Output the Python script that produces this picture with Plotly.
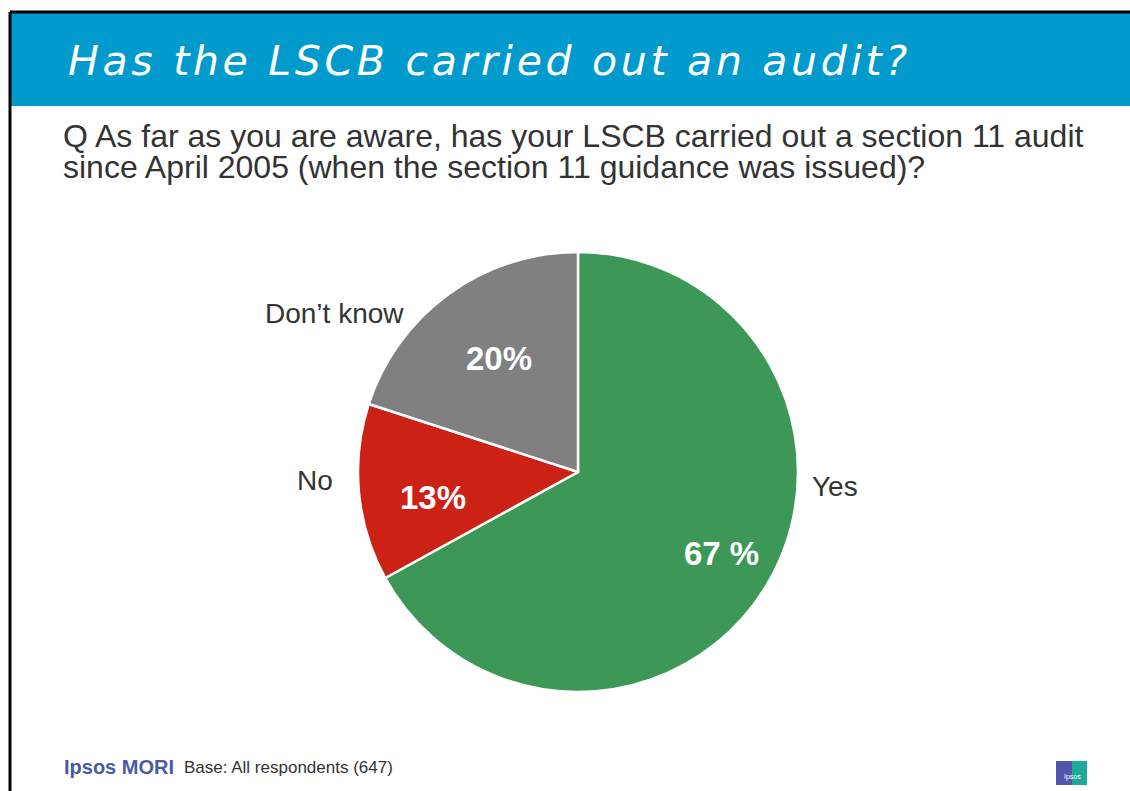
import plotly.graph_objects as go

# Survey responses: has the LSCB carried out a section 11 audit?
categories = ["Yes", "No", "Don\u2019t know"]
shares = [67, 13, 20]
pct_labels = ["67 %", "13%", "20%"]
slice_colors = ["#3D9858", "#CC2216", "#808080"]

W, H = 1130, 791


def px(x):
    return x / W


def py(y):
    return 1 - y / H


# Pie geometry (pixels)
cx, cy, r = 578, 472, 220

fig = go.Figure(
    go.Pie(
        labels=categories,
        values=shares,
        sort=False,
        direction="clockwise",
        rotation=0,
        marker=dict(colors=slice_colors, line=dict(color="white", width=2.5)),
        textinfo="none",
        hoverinfo="label+percent",
        showlegend=False,
        domain=dict(x=[px(cx - r), px(cx + r)], y=[py(cy + r), py(cy - r)]),
    )
)

shapes = [
    # blue header band
    dict(type="rect", xref="paper", yref="paper", x0=px(11), x1=1, y0=py(106), y1=py(13),
         fillcolor="#009ACD", line=dict(width=0), layer="below"),
    # slide frame (top and left edges)
    dict(type="line", xref="paper", yref="paper", x0=px(10), x1=1, y0=py(12), y1=py(12),
         line=dict(color="black", width=3)),
    dict(type="line", xref="paper", yref="paper", x0=px(10), x1=px(10), y0=py(12), y1=0,
         line=dict(color="black", width=3)),
    # Ipsos logo block
    dict(type="rect", xref="paper", yref="paper", x0=px(1056), x1=px(1072), y0=py(785), y1=py(761),
         fillcolor="#5056AA", line=dict(width=0)),
    dict(type="rect", xref="paper", yref="paper", x0=px(1072), x1=px(1087), y0=py(785), y1=py(761),
         fillcolor="#1FA99B", line=dict(width=0)),
]

text_col = "#333333"
annotations = [
    dict(x=px(66), y=py(61),
         text='<span style="letter-spacing:3.7px">Has the LSCB carried out an audit?</span>',
         xanchor="left", yanchor="middle", showarrow=False,
         font=dict(family="DejaVu Sans", size=41, color="white", style="italic")),
    dict(x=px(61), y=py(136), text="Q As far as you are aware, has your LSCB carried out a section 11 audit",
         xanchor="left", yanchor="middle", showarrow=False,
         font=dict(family="Liberation Sans", size=32, color=text_col)),
    dict(x=px(61), y=py(167), text="since April 2005 (when the section 11 guidance was issued)?",
         xanchor="left", yanchor="middle", showarrow=False,
         font=dict(family="Liberation Sans", size=32, color=text_col)),
    dict(x=px(62), y=py(767), text="<b>Ipsos MORI</b>", xanchor="left", yanchor="middle", showarrow=False,
         font=dict(family="Liberation Sans", size=20, color="#4A5AA3")),
    dict(x=px(182), y=py(767), text="Base: All respondents (647)", xanchor="left", yanchor="middle",
         showarrow=False, font=dict(family="Liberation Sans", size=17, color=text_col)),
    dict(x=px(1072), y=py(777), text="Ipsos", xanchor="center", yanchor="middle", showarrow=False,
         font=dict(family="Liberation Sans", size=7, color="white")),
]

# category names outside the pie, percentages inside each slice
cat_pos = [(835, 486), (315, 481), (334, 313)]
pct_pos = [(721, 553), (433, 497), (499, 358)]
for name, (x, y) in zip(categories, cat_pos):
    annotations.append(dict(x=px(x), y=py(y), text=name, showarrow=False, xanchor="center", yanchor="middle",
                            font=dict(family="Liberation Sans", size=28, color=text_col)))
for lab, (x, y) in zip(pct_labels, pct_pos):
    annotations.append(dict(x=px(x), y=py(y), text=f"<b>{lab}</b>", showarrow=False, xanchor="center",
                            yanchor="middle", font=dict(family="Liberation Sans", size=33, color="white")))

fig.update_layout(
    width=W, height=H,
    margin=dict(l=0, r=0, t=0, b=0),
    paper_bgcolor="white", plot_bgcolor="white",
    shapes=shapes, annotations=annotations,
)

fig.write_html("out.html")
